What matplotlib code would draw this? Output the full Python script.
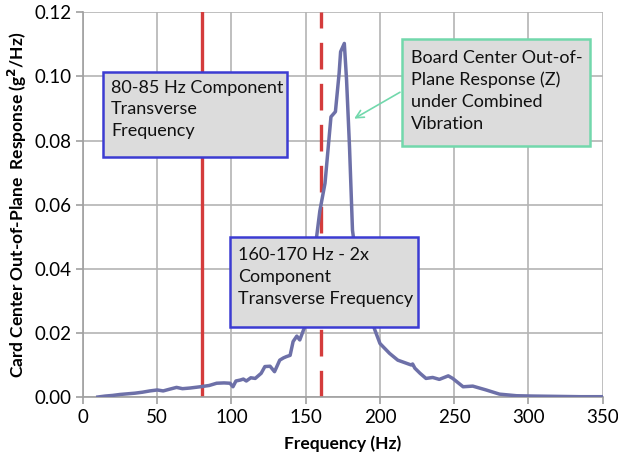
import matplotlib
matplotlib.use("Agg")
import matplotlib.pyplot as plt
from matplotlib.patches import Rectangle

plt.rcParams['font.family'] = ['Lato', 'DejaVu Sans']

freq = [10, 15, 20, 25, 30, 35, 40, 45, 50, 54, 58, 63, 67, 72, 79, 85, 90, 95, 99,
        101, 103, 106, 108, 110, 113, 116, 120, 122.5, 126, 129, 132.5, 135, 137,
        139.5, 141.5, 144, 146, 148.5, 150.5, 153, 156, 159.5, 163, 167, 170, 172.5,
        173.5, 176, 177.5, 179.5, 181.5, 185, 190, 196.5, 200, 206.5, 212, 218, 221,
        222, 223.5, 227, 231, 235.5, 240, 246, 249, 256, 262.5, 271.5, 280.5, 292,
        303, 319, 335, 350]
response = [0.0, 0.0003, 0.0005, 0.0008, 0.001, 0.0012, 0.0015, 0.0019, 0.0022, 0.0019,
            0.0024, 0.003, 0.0026, 0.0028, 0.0032, 0.0036, 0.0043, 0.0044, 0.0043,
            0.0032, 0.005, 0.0053, 0.0056, 0.005, 0.006, 0.0058, 0.0074, 0.0095, 0.0096,
            0.0079, 0.0115, 0.0122, 0.0126, 0.013, 0.0173, 0.019, 0.0178, 0.0209, 0.023,
            0.032, 0.045, 0.058, 0.0667, 0.0874, 0.089, 0.101, 0.1077, 0.1103, 0.099,
            0.078, 0.052, 0.040, 0.030, 0.021, 0.0167, 0.0136, 0.0115, 0.0105, 0.010,
            0.0103, 0.009, 0.0074, 0.0058, 0.0061, 0.0055, 0.0066, 0.0058, 0.0032,
            0.0034, 0.0022, 0.0009, 0.0004, 0.0003, 0.0002, 0.0001, 0.0001]

component_freq = 80
double_freq = 160

box1_text = "80-85 Hz Component\nTransverse\nFrequency"
box2_text = "160-170 Hz - 2x\nComponent\nTransverse Frequency"
box3_text = "Board Center Out-of-\nPlane Response (Z)\nunder Combined\nVibration"

fig = plt.figure(figsize=(6.18, 4.65), dpi=100)
ax = fig.add_axes([0.1343, 0.1462, 0.9752 - 0.1343, 0.9735 - 0.1462])

ax.set_xlim(0, 350)
ax.set_ylim(0, 0.12)
ax.set_xticks(range(0, 351, 50))
ax.set_yticks([0, 0.02, 0.04, 0.06, 0.08, 0.10, 0.12])
ax.set_yticklabels([f"{v:.2f}" for v in [0, 0.02, 0.04, 0.06, 0.08, 0.10, 0.12]])
ax.grid(True, color='#b4b4b4', linewidth=1.2)
ax.set_axisbelow(True)
for s in ['top', 'right']:
    ax.spines[s].set_visible(False)
for s in ['left', 'bottom']:
    ax.spines[s].set_color('#a0a0a0')
    ax.spines[s].set_linewidth(1.2)
ax.tick_params(axis='both', colors='#a0a0a0', labelcolor='black', labelsize=13.5,
               length=5, width=1.2)

ax.plot(freq, response, color='#6d70a8', linewidth=2.5, zorder=3)
ax.axvline(component_freq, color='#d43c3c', linewidth=2.4, zorder=2)
ax.axvline(double_freq, color='#d43c3c', linewidth=2.4, dashes=(8, 4.3), zorder=2)

ax.set_xlabel("Frequency (Hz)", fontsize=12.5, fontweight='bold', labelpad=7)
ax.set_ylabel("Card Center Out-of-Plane  Response (g$^\\mathbf{2}$/Hz)", fontsize=12.5,
              fontweight='bold', labelpad=4)

def box(x0, x1, y0, y1, edge, text, tx, ty):
    ax.add_patch(Rectangle((x0, y0), x1 - x0, y1 - y0, facecolor='#dcdcdc',
                           edgecolor=edge, linewidth=1.8, zorder=5))
    ax.text(tx, ty, text, fontsize=13, va='top', ha='left', linespacing=1.45,
            zorder=6, color='#111111')

box(13.3, 137.1, 0.075, 0.1015, '#3c3cd2', box1_text, 19.0, 0.0990)
box(98.9, 225.4, 0.0218, 0.0498, '#3c3cd2', box2_text, 104.3, 0.0467)
box(215.1, 341.6, 0.0783, 0.1116, '#72d8ac', box3_text, 221.0, 0.1083)

ax.annotate("", xy=(181, 0.0864), xytext=(215.1, 0.0955),
            arrowprops=dict(arrowstyle='->', color='#72d8ac', lw=1.2,
                            mutation_scale=14), zorder=6)

fig.savefig("out.png", dpi=100)
